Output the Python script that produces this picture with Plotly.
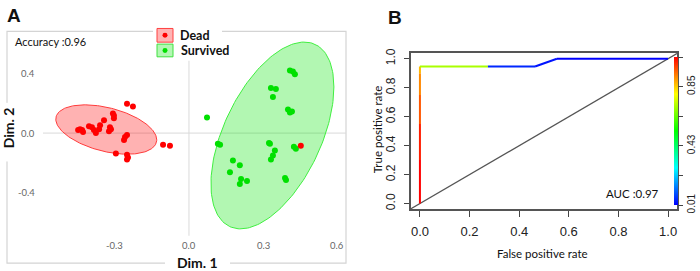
import numpy as np
import plotly.graph_objects as go
from plotly.colors import sample_colorscale

# ---------------- data: panel A (PLS-DA scores) ----------------
DEAD_X = [-0.251, -0.227, -0.308, -0.304, -0.304, -0.344, -0.441, -0.449, -0.429, -0.433,
          -0.405, -0.393, -0.385, -0.377, -0.364, -0.360, -0.320, -0.324, -0.316, -0.251,
          -0.259, -0.263, -0.296, -0.251, -0.247, -0.251, -0.105, -0.077, 0.453]
DEAD_Y = [0.197, 0.178, 0.132, 0.118, 0.099, 0.086, 0.026, 0.020, 0.007, 0.020,
          0.046, 0.039, 0.020, 0.000, 0.026, 0.053, 0.039, 0.013, 0.026, -0.013,
          -0.026, -0.046, -0.138, -0.145, -0.164, -0.178, -0.079, -0.086, -0.086]
SURV_X = [0.409, 0.421, 0.429, 0.332, 0.352, 0.340, 0.401, 0.409, 0.417, 0.073,
          0.117, 0.126, 0.324, 0.328, 0.348, 0.340, 0.332, 0.425, 0.433, 0.178,
          0.206, 0.166, 0.211, 0.235, 0.206, 0.389, 0.393]
SURV_Y = [0.421, 0.414, 0.395, 0.303, 0.296, 0.243, 0.158, 0.138, 0.145, 0.105,
          -0.072, -0.079, -0.066, -0.072, -0.118, -0.151, -0.178, -0.092, -0.105, -0.184,
          -0.217, -0.263, -0.309, -0.322, -0.342, -0.303, -0.316]
GROUPS = ["Dead", "Survived"]
# 95% ellipses: centre and shape matrix (data units)
ELL_CX = [-0.335, 0.338]
ELL_CY = [0.024, -0.016]
ELL_SXX = [0.0418, 0.0620]
ELL_SXY = [-0.01425, 0.0812]
ELL_SYY = [0.02756, 0.3948]
A_XTICKS = [-0.3, 0.0, 0.3, 0.6]
A_YTICKS = [0.4, 0.0, -0.4]
ACCURACY = "Accuracy :0.96"

# ---------------- data: panel B (ROC) ----------------
ROC_FPR = [0.0, 0.0, 0.0, 0.0, 0.0, 0.0, 0.274, 0.464, 0.552, 1.0]
ROC_TPR = [0.0, 0.30, 0.55, 0.75, 0.90, 0.946, 0.946, 0.946, 1.0, 1.0]
ROC_CUT = [1.06, 1.03, 0.97, 0.92, 0.87, 0.71, 0.05, 0.03, 0.01, 0.01]
CB_TICKS = [0.01, 0.22, 0.43, 0.64, 0.85, 1.06]
CB_LABELS = ["0.01", "", "0.43", "", "0.85", ""]
B_TICKS = [0.0, 0.2, 0.4, 0.6, 0.8, 1.0]
AUC = "AUC :0.97"

W, H = 700, 271
def px(x): return x / W
def py(y): return 1 - y / H

SEGOE = "Lato, 'Open Sans', sans-serif"
NARROW = "'Liberation Sans Narrow', 'Arial Narrow', 'Liberation Sans', sans-serif"
ARIAL = "'Liberation Sans', Arial, sans-serif"

RED = "#ff0000"
GREEN = "#00e000"
FILLS = ["rgba(255,0,0,0.3)", "rgba(0,230,0,0.3)"]
LINES = ["#ff3b3b", "#40ee40"]

fig = go.Figure()

# ellipses
for i, g in enumerate(GROUPS):
    S = np.array([[ELL_SXX[i], ELL_SXY[i]], [ELL_SXY[i], ELL_SYY[i]]])
    L = np.linalg.cholesky(S)
    t = np.linspace(0, 2 * np.pi, 181)
    pts = L @ np.vstack([np.cos(t), np.sin(t)])
    fig.add_trace(go.Scatter(x=ELL_CX[i] + pts[0], y=ELL_CY[i] + pts[1], mode="lines",
                             fill="toself", fillcolor=FILLS[i],
                             line=dict(color=LINES[i], width=1), hoverinfo="skip",
                             showlegend=False, xaxis="x", yaxis="y"))
fig.add_trace(go.Scatter(x=SURV_X, y=SURV_Y, mode="markers",
                         marker=dict(color=GREEN, size=6), showlegend=False, xaxis="x", yaxis="y"))
fig.add_trace(go.Scatter(x=DEAD_X, y=DEAD_Y, mode="markers",
                         marker=dict(color=RED, size=6), showlegend=False, xaxis="x", yaxis="y"))

# ---------------- panel B traces ----------------
CSCALE = [[0.0, "#0000ff"], [0.25, "#00ffff"], [0.5, "#00ff00"], [0.75, "#ffff00"], [1.0, "#ff0000"]]
cmin, cmax = CB_TICKS[0], CB_TICKS[-1]
XR_B = [-0.036, 1.036]
YR_B = [-0.04, 1.04]
fig.add_trace(go.Scatter(x=XR_B, y=XR_B, mode="lines", line=dict(color="#555555", width=1.3),
                         showlegend=False, hoverinfo="skip", xaxis="x2", yaxis="y2"))
for i in range(len(ROC_FPR) - 1):
    v = (ROC_CUT[i] - cmin) / (cmax - cmin)
    col = sample_colorscale(CSCALE, [min(max(v, 0), 1)])[0]
    fig.add_trace(go.Scatter(x=ROC_FPR[i:i + 2], y=ROC_TPR[i:i + 2], mode="lines",
                             line=dict(color=col, width=2), showlegend=False,
                             xaxis="x2", yaxis="y2"))
fig.add_trace(go.Scatter(
    x=ROC_FPR, y=ROC_TPR, mode="markers", showlegend=False, hoverinfo="skip",
    marker=dict(size=1, opacity=0, color=ROC_CUT, colorscale=CSCALE, cmin=cmin, cmax=cmax,
                showscale=True,
                colorbar=dict(x=px(674), xanchor="left", xpad=0, thickness=4,
                              lenmode="pixels", len=148, y=py(129), yanchor="middle", ypad=0,
                              outlinewidth=0, ticks="outside", ticklen=5, tickcolor="#444",
                              tickvals=CB_TICKS, ticktext=CB_LABELS, tickangle=-90,
                              tickfont=dict(family=ARIAL, size=10, color="#222"))),
    xaxis="x2", yaxis="y2"))

shapes = []
# panel A frame
shapes.append(dict(type="rect", xref="paper", yref="paper", x0=px(7), x1=px(346), y0=py(264), y1=py(27),
                   line=dict(color="#d4d4d4", width=1.2), layer="below"))
# zero lines
shapes.append(dict(type="line", xref="paper", yref="y", x0=px(43), x1=px(346), y0=0, y1=0,
                   line=dict(color="#dadada", width=1), layer="below"))
shapes.append(dict(type="line", xref="x", yref="paper", x0=0, x1=0, y0=py(236), y1=py(57),
                   line=dict(color="#dadada", width=1), layer="below"))
# white covers for labels on the frame
for (x0, x1, y0, y1) in [(153, 222, 22, 33), (165, 230, 258, 270), (2, 13, 100, 160)]:
    shapes.append(dict(type="rect", xref="paper", yref="paper", x0=px(x0), x1=px(x1),
                       y0=py(y1), y1=py(y0), fillcolor="white", line=dict(width=0), layer="above"))
# legend boxes
shapes.append(dict(type="rect", xref="paper", yref="paper", x0=px(157), x1=px(173), y0=py(38), y1=py(24),
                   fillcolor="#ffb3b3", line=dict(color="#ff4040", width=1), layer="above"))
shapes.append(dict(type="rect", xref="paper", yref="paper", x0=px(157), x1=px(173), y0=py(53), y1=py(40),
                   fillcolor="#b3f7b3", line=dict(color="#40e040", width=1), layer="above"))
shapes.append(dict(type="circle", xref="paper", yref="paper", x0=px(162.5), x1=px(167.5), y0=py(33.5), y1=py(28.5),
                   fillcolor=RED, line=dict(width=0), layer="above"))
shapes.append(dict(type="circle", xref="paper", yref="paper", x0=px(162.5), x1=px(167.5), y0=py(49), y1=py(44),
                   fillcolor=GREEN, line=dict(width=0), layer="above"))

ann = []
def text(x, y, s, size, family=SEGOE, color="#111", xanchor="left", bold=False, angle=0,
         xref="paper", yref="paper"):
    ann.append(dict(x=x, y=y, xref=xref, yref=yref, text=("<b>%s</b>" % s) if bold else s,
                    showarrow=False, xanchor=xanchor, yanchor="middle", textangle=angle,
                    font=dict(family=family, size=size, color=color)))

text(px(5), py(11), "A", 19, family=ARIAL, bold=True)
text(px(386), py(13), "B", 19, family=ARIAL, bold=True)
text(px(13), py(37), ACCURACY, 11)
text(px(178), py(31), "Dead", 12.5, bold=True)
text(px(179), py(46.5), "Survived", 12.5, bold=True)
text(px(8), py(126), "Dim. 2", 14, bold=True, xanchor="center", angle=-90)
text(px(197), py(263), "Dim. 1", 14, bold=True, xanchor="center")
for v in A_XTICKS:
    text(v, py(246), "%.1f" % v, 9.5, color="#666", xanchor="center", xref="x")
for v in A_YTICKS:
    text(px(37), v, "%.1f" % v, 9.5, color="#666", xanchor="right", yref="y")
text(px(377), py(127), "True positive rate", 11.5, xanchor="center", angle=-90)
text(px(542), py(254), "False positive rate", 11.5, xanchor="center")
text(0.74, 0.07, AUC, 11.5, xref="x2", yref="y2")

noax = dict(showgrid=False, zeroline=False, showticklabels=False, showline=False, ticks="")
fig.update_layout(
    width=W, height=H, margin=dict(l=0, r=0, t=0, b=0),
    paper_bgcolor="white", plot_bgcolor="white", showlegend=False,
    xaxis=dict(domain=[px(7), px(346)], range=[-0.737, 0.636], **noax),
    yaxis=dict(domain=[py(264), py(27)], range=[-0.875, 0.684], **noax),
    xaxis2=dict(domain=[px(411), px(677)], range=XR_B, anchor="y2", tickvals=B_TICKS,
                ticktext=["%.1f" % v for v in B_TICKS], ticks="outside", ticklen=6, tickwidth=1,
                tickcolor="#444", showline=True, mirror=True, linecolor="#555", linewidth=1.5,
                showgrid=False, zeroline=False, ticklabelstandoff=3,
                tickfont=dict(family=NARROW, size=13, color="#222")),
    yaxis2=dict(domain=[py(209), py(49)], range=YR_B, anchor="x2", tickvals=B_TICKS,
                ticktext=["%.1f" % v for v in B_TICKS], ticks="outside", ticklen=5, tickwidth=1,
                tickcolor="#444", showline=True, mirror=True, linecolor="#555", linewidth=1.5,
                showgrid=False, zeroline=False, tickangle=-90, ticklabelstandoff=4,
                tickfont=dict(family=ARIAL, size=12, color="#222")),
    shapes=shapes, annotations=ann,
)
fig.write_html("out.html", config={"displayModeBar": False},
               post_script="document.body.style.margin='0';document.body.style.overflow='hidden';")
